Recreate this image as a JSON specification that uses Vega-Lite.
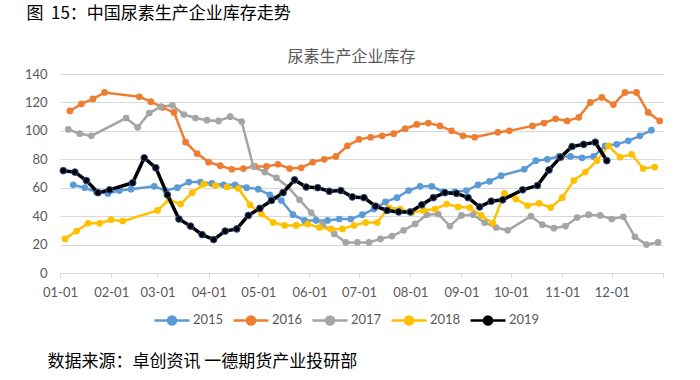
{
  "$schema": "https://vega.github.io/schema/vega-lite/v6.json",
  "padding": {"left": 24, "top": 5, "right": 10, "bottom": 5},
  "background": "white",
  "config": {"font": "Noto Sans CJK SC", "view": {"stroke": null}},
  "title": {"text": "图\u00a0\u00a015：中国尿素生产企业库存走势", "anchor": "start", "fontSize": 17, "fontWeight": "normal", "color": "#000000", "font": "Noto Sans CJK SC", "offset": 26, "dx": 2},
  "resolve": {"scale": {"color": "independent"}, "legend": {"color": "independent"}},
  "vconcat": [
    {
      "title": {"text": "数据来源：卓创资讯\u00a0一德期货产业投研部", "orient": "bottom", "anchor": "start", "fontSize": 17, "fontWeight": "normal", "color": "#000000", "font": "Noto Sans CJK SC", "offset": 24, "dx": 23},
      "resolve": {"scale": {"color": "independent"}, "legend": {"color": "independent"}},
      "vconcat": [
        {
          "width": 603,
          "height": 199,
          "title": {"text": "尿素生产企业库存", "anchor": "middle", "fontSize": 16, "fontWeight": "normal", "color": "#595959", "font": "Noto Sans CJK SC", "offset": 3, "dx": -10},
          "data": {"values": [
            {"s":"2015","d":"2019/01/09","v":62},{"s":"2015","d":"2019/01/16","v":60},{"s":"2015","d":"2019/01/23","v":57},{"s":"2015","d":"2019/01/30","v":56},{"s":"2015","d":"2019/02/06","v":58},{"s":"2015","d":"2019/02/13","v":59},{"s":"2015","d":"2019/02/27","v":61},{"s":"2015","d":"2019/03/06","v":58},{"s":"2015","d":"2019/03/13","v":60},{"s":"2015","d":"2019/03/20","v":64},{"s":"2015","d":"2019/03/27","v":64},{"s":"2015","d":"2019/04/03","v":63},{"s":"2015","d":"2019/04/10","v":62},{"s":"2015","d":"2019/04/17","v":62},{"s":"2015","d":"2019/04/24","v":60},{"s":"2015","d":"2019/05/01","v":59},{"s":"2015","d":"2019/05/08","v":55},{"s":"2015","d":"2019/05/15","v":51},{"s":"2015","d":"2019/05/22","v":41},{"s":"2015","d":"2019/05/29","v":37},{"s":"2015","d":"2019/06/05","v":37},{"s":"2015","d":"2019/06/12","v":37},{"s":"2015","d":"2019/06/19","v":38},{"s":"2015","d":"2019/06/26","v":38},{"s":"2015","d":"2019/07/03","v":41},{"s":"2015","d":"2019/07/10","v":45},{"s":"2015","d":"2019/07/17","v":50},{"s":"2015","d":"2019/07/24","v":53},{"s":"2015","d":"2019/07/31","v":58},{"s":"2015","d":"2019/08/07","v":61},{"s":"2015","d":"2019/08/14","v":61},{"s":"2015","d":"2019/08/21","v":57},{"s":"2015","d":"2019/08/28","v":57},{"s":"2015","d":"2019/09/04","v":58},{"s":"2015","d":"2019/09/11","v":62},{"s":"2015","d":"2019/09/18","v":64.5},{"s":"2015","d":"2019/09/25","v":68.5},{"s":"2015","d":"2019/10/09","v":73},{"s":"2015","d":"2019/10/16","v":79},{"s":"2015","d":"2019/10/23","v":80},{"s":"2015","d":"2019/10/30","v":82},{"s":"2015","d":"2019/11/06","v":82},{"s":"2015","d":"2019/11/13","v":81},{"s":"2015","d":"2019/11/20","v":82},{"s":"2015","d":"2019/11/27","v":89.5},{"s":"2015","d":"2019/12/04","v":90.5},{"s":"2015","d":"2019/12/11","v":93},{"s":"2015","d":"2019/12/18","v":96.5},{"s":"2015","d":"2019/12/25","v":100.5},
            {"s":"2016","d":"2019/01/07","v":114},{"s":"2016","d":"2019/01/14","v":119},{"s":"2016","d":"2019/01/21","v":122.5},{"s":"2016","d":"2019/01/28","v":127},{"s":"2016","d":"2019/02/18","v":124},{"s":"2016","d":"2019/02/25","v":120.5},{"s":"2016","d":"2019/03/04","v":116.5},{"s":"2016","d":"2019/03/11","v":113},{"s":"2016","d":"2019/03/18","v":92},{"s":"2016","d":"2019/03/25","v":84},{"s":"2016","d":"2019/04/01","v":78},{"s":"2016","d":"2019/04/08","v":75.5},{"s":"2016","d":"2019/04/15","v":73},{"s":"2016","d":"2019/04/22","v":73.5},{"s":"2016","d":"2019/04/29","v":75},{"s":"2016","d":"2019/05/06","v":75},{"s":"2016","d":"2019/05/13","v":76.5},{"s":"2016","d":"2019/05/20","v":73.5},{"s":"2016","d":"2019/05/27","v":74},{"s":"2016","d":"2019/06/03","v":78},{"s":"2016","d":"2019/06/10","v":80},{"s":"2016","d":"2019/06/17","v":82},{"s":"2016","d":"2019/06/24","v":89.5},{"s":"2016","d":"2019/07/01","v":94},{"s":"2016","d":"2019/07/08","v":95.5},{"s":"2016","d":"2019/07/15","v":96.5},{"s":"2016","d":"2019/07/22","v":98},{"s":"2016","d":"2019/07/29","v":101.5},{"s":"2016","d":"2019/08/05","v":104.5},{"s":"2016","d":"2019/08/12","v":105.5},{"s":"2016","d":"2019/08/19","v":103.5},{"s":"2016","d":"2019/08/26","v":100},{"s":"2016","d":"2019/09/02","v":96.5},{"s":"2016","d":"2019/09/09","v":95.5},{"s":"2016","d":"2019/09/23","v":99},{"s":"2016","d":"2019/09/30","v":100},{"s":"2016","d":"2019/10/14","v":103.5},{"s":"2016","d":"2019/10/21","v":105.5},{"s":"2016","d":"2019/10/28","v":108.5},{"s":"2016","d":"2019/11/04","v":107},{"s":"2016","d":"2019/11/11","v":109.5},{"s":"2016","d":"2019/11/18","v":120},{"s":"2016","d":"2019/11/25","v":123.5},{"s":"2016","d":"2019/12/02","v":118.5},{"s":"2016","d":"2019/12/09","v":127},{"s":"2016","d":"2019/12/16","v":127},{"s":"2016","d":"2019/12/23","v":113},{"s":"2016","d":"2019/12/30","v":107},
            {"s":"2017","d":"2019/01/06","v":101},{"s":"2017","d":"2019/01/13","v":98},{"s":"2017","d":"2019/01/20","v":96.5},{"s":"2017","d":"2019/02/10","v":109},{"s":"2017","d":"2019/02/17","v":102.5},{"s":"2017","d":"2019/02/24","v":112.5},{"s":"2017","d":"2019/03/03","v":117},{"s":"2017","d":"2019/03/10","v":118},{"s":"2017","d":"2019/03/17","v":111.5},{"s":"2017","d":"2019/03/24","v":109},{"s":"2017","d":"2019/03/31","v":107.5},{"s":"2017","d":"2019/04/07","v":107},{"s":"2017","d":"2019/04/14","v":110},{"s":"2017","d":"2019/04/21","v":106.5},{"s":"2017","d":"2019/04/28","v":75},{"s":"2017","d":"2019/05/05","v":71},{"s":"2017","d":"2019/05/12","v":67},{"s":"2017","d":"2019/05/19","v":60.5},{"s":"2017","d":"2019/05/26","v":51.5},{"s":"2017","d":"2019/06/02","v":42.5},{"s":"2017","d":"2019/06/09","v":34.5},{"s":"2017","d":"2019/06/16","v":27.5},{"s":"2017","d":"2019/06/23","v":21.5},{"s":"2017","d":"2019/06/30","v":21.5},{"s":"2017","d":"2019/07/07","v":21.5},{"s":"2017","d":"2019/07/14","v":24},{"s":"2017","d":"2019/07/21","v":26},{"s":"2017","d":"2019/07/28","v":30},{"s":"2017","d":"2019/08/04","v":34.5},{"s":"2017","d":"2019/08/11","v":41},{"s":"2017","d":"2019/08/18","v":41.5},{"s":"2017","d":"2019/08/25","v":33},{"s":"2017","d":"2019/09/01","v":40.5},{"s":"2017","d":"2019/09/08","v":41},{"s":"2017","d":"2019/09/15","v":35.5},{"s":"2017","d":"2019/09/22","v":32},{"s":"2017","d":"2019/09/29","v":30},{"s":"2017","d":"2019/10/13","v":40},{"s":"2017","d":"2019/10/20","v":34},{"s":"2017","d":"2019/10/27","v":31.5},{"s":"2017","d":"2019/11/03","v":33},{"s":"2017","d":"2019/11/10","v":39},{"s":"2017","d":"2019/11/17","v":41},{"s":"2017","d":"2019/11/24","v":40.5},{"s":"2017","d":"2019/12/01","v":38},{"s":"2017","d":"2019/12/08","v":39.5},{"s":"2017","d":"2019/12/15","v":25.5},{"s":"2017","d":"2019/12/22","v":20},{"s":"2017","d":"2019/12/29","v":21.5},
            {"s":"2018","d":"2019/01/04","v":24},{"s":"2018","d":"2019/01/11","v":29.5},{"s":"2018","d":"2019/01/18","v":35},{"s":"2018","d":"2019/01/25","v":35},{"s":"2018","d":"2019/02/01","v":37.5},{"s":"2018","d":"2019/02/08","v":36.5},{"s":"2018","d":"2019/03/01","v":44},{"s":"2018","d":"2019/03/08","v":51.5},{"s":"2018","d":"2019/03/15","v":48.5},{"s":"2018","d":"2019/03/22","v":56.5},{"s":"2018","d":"2019/03/29","v":62.5},{"s":"2018","d":"2019/04/05","v":61.5},{"s":"2018","d":"2019/04/12","v":60.5},{"s":"2018","d":"2019/04/19","v":59.5},{"s":"2018","d":"2019/04/26","v":48},{"s":"2018","d":"2019/05/03","v":41.5},{"s":"2018","d":"2019/05/10","v":35.5},{"s":"2018","d":"2019/05/17","v":33.5},{"s":"2018","d":"2019/05/24","v":33.5},{"s":"2018","d":"2019/05/31","v":34.5},{"s":"2018","d":"2019/06/07","v":32},{"s":"2018","d":"2019/06/14","v":31},{"s":"2018","d":"2019/06/21","v":31},{"s":"2018","d":"2019/06/28","v":33.5},{"s":"2018","d":"2019/07/05","v":35.5},{"s":"2018","d":"2019/07/12","v":35.5},{"s":"2018","d":"2019/07/19","v":46},{"s":"2018","d":"2019/07/26","v":45},{"s":"2018","d":"2019/08/02","v":42.5},{"s":"2018","d":"2019/08/09","v":44},{"s":"2018","d":"2019/08/16","v":45},{"s":"2018","d":"2019/08/23","v":48.5},{"s":"2018","d":"2019/08/30","v":46.5},{"s":"2018","d":"2019/09/06","v":46},{"s":"2018","d":"2019/09/13","v":40.5},{"s":"2018","d":"2019/09/20","v":35},{"s":"2018","d":"2019/09/27","v":56},{"s":"2018","d":"2019/10/04","v":52},{"s":"2018","d":"2019/10/11","v":47.5},{"s":"2018","d":"2019/10/18","v":49},{"s":"2018","d":"2019/10/25","v":46},{"s":"2018","d":"2019/11/01","v":53},{"s":"2018","d":"2019/11/08","v":65},{"s":"2018","d":"2019/11/15","v":71},{"s":"2018","d":"2019/11/22","v":79},{"s":"2018","d":"2019/11/29","v":89.5},{"s":"2018","d":"2019/12/06","v":81.5},{"s":"2018","d":"2019/12/13","v":83.5},{"s":"2018","d":"2019/12/20","v":73.5},{"s":"2018","d":"2019/12/27","v":74.5},
            {"s":"2019","d":"2019/01/03","v":72},{"s":"2019","d":"2019/01/10","v":71},{"s":"2019","d":"2019/01/17","v":65},{"s":"2019","d":"2019/01/24","v":56.5},{"s":"2019","d":"2019/01/31","v":58.5},{"s":"2019","d":"2019/02/14","v":63.5},{"s":"2019","d":"2019/02/21","v":81},{"s":"2019","d":"2019/02/28","v":74},{"s":"2019","d":"2019/03/07","v":55},{"s":"2019","d":"2019/03/14","v":38},{"s":"2019","d":"2019/03/21","v":33},{"s":"2019","d":"2019/03/28","v":27},{"s":"2019","d":"2019/04/04","v":23.5},{"s":"2019","d":"2019/04/11","v":29.5},{"s":"2019","d":"2019/04/18","v":31},{"s":"2019","d":"2019/04/25","v":40.5},{"s":"2019","d":"2019/05/02","v":45.5},{"s":"2019","d":"2019/05/09","v":51},{"s":"2019","d":"2019/05/16","v":56.5},{"s":"2019","d":"2019/05/23","v":65.5},{"s":"2019","d":"2019/05/30","v":60.5},{"s":"2019","d":"2019/06/06","v":60},{"s":"2019","d":"2019/06/13","v":57.5},{"s":"2019","d":"2019/06/20","v":58},{"s":"2019","d":"2019/06/27","v":53.5},{"s":"2019","d":"2019/07/04","v":53},{"s":"2019","d":"2019/07/11","v":47},{"s":"2019","d":"2019/07/18","v":44},{"s":"2019","d":"2019/07/25","v":43},{"s":"2019","d":"2019/08/01","v":43},{"s":"2019","d":"2019/08/08","v":48},{"s":"2019","d":"2019/08/15","v":53},{"s":"2019","d":"2019/08/22","v":56.5},{"s":"2019","d":"2019/08/29","v":56},{"s":"2019","d":"2019/09/05","v":53},{"s":"2019","d":"2019/09/12","v":46.5},{"s":"2019","d":"2019/09/19","v":50.5},{"s":"2019","d":"2019/09/26","v":51.5},{"s":"2019","d":"2019/10/08","v":58.5},{"s":"2019","d":"2019/10/17","v":61.5},{"s":"2019","d":"2019/10/24","v":72.5},{"s":"2019","d":"2019/10/31","v":81.5},{"s":"2019","d":"2019/11/07","v":89},{"s":"2019","d":"2019/11/14","v":90.5},{"s":"2019","d":"2019/11/21","v":92},{"s":"2019","d":"2019/11/28","v":79}
          ]},
          "encoding": {
            "x": {"field": "d", "type": "temporal",
              "scale": {"domain": [{"year": 2019, "month": 1, "date": 1}, {"year": 2020, "month": 1, "date": 1}]},
              "axis": {"format": "%m-%d", "tickCount": {"interval": "month", "step": 1}, "labelExpr": "year(datum.value) > 2019 ? '' : datum.label", "grid": false, "domainColor": "#D9D9D9", "tickColor": "#D9D9D9", "tickSize": 5, "labelFont": "Lato", "labelFontSize": 13, "labelColor": "#595959", "labelPadding": 8, "title": null, "labelOverlap": false, "labelFlush": false}},
            "y": {"field": "v", "type": "quantitative",
              "scale": {"domain": [0, 140], "nice": false},
              "axis": {"values": [0, 20, 40, 60, 80, 100, 120, 140], "domain": false, "ticks": false, "gridColor": "#D9D9D9", "labelFont": "Lato", "labelFontSize": 13, "labelColor": "#595959", "labelPadding": 13, "title": null}},
            "color": {"field": "s", "type": "nominal",
              "scale": {"domain": ["2015", "2016", "2017", "2018", "2019"], "range": ["#5B9BD5", "#ED7D31", "#A5A5A5", "#FFC000", "#000000"]},
              "legend": {"orient": "none", "legendX": 93, "legendY": 227, "direction": "horizontal", "title": null,
                "symbolType": "M-1,0L1,0M0.23,0A0.23,0.23,0,1,1,-0.23,0A0.23,0.23,0,1,1,0.23,0",
                "symbolSize": 1225, "symbolStrokeWidth": 2.5, "labelFont": "Lato", "labelFontSize": 13, "labelColor": "#595959", "labelOffset": 2, "columnPadding": 4,
                "encode": {"symbols": {"update": {"fill": {"scale": "color", "field": "value"}, "fillOpacity": {"value": 1}, "opacity": {"value": 1}}}}}}
          },
          "layer": [
            {"transform": [{"filter": "datum.s !== '2019'"}], "mark": {"type": "line", "strokeWidth": 2.5}},
            {"transform": [{"filter": "datum.s !== '2019'"}], "mark": {"type": "point", "filled": true, "size": 45, "opacity": 1}},
            {"transform": [{"filter": "datum.s === '2019'"}], "mark": {"type": "line", "strokeWidth": 3.5}},
            {"transform": [{"filter": "datum.s === '2019'"}], "mark": {"type": "point", "filled": true, "size": 45, "opacity": 1, "stroke": "#2F5597", "strokeWidth": 1}}
          ]
        }
      ]
    }
  ]
}
